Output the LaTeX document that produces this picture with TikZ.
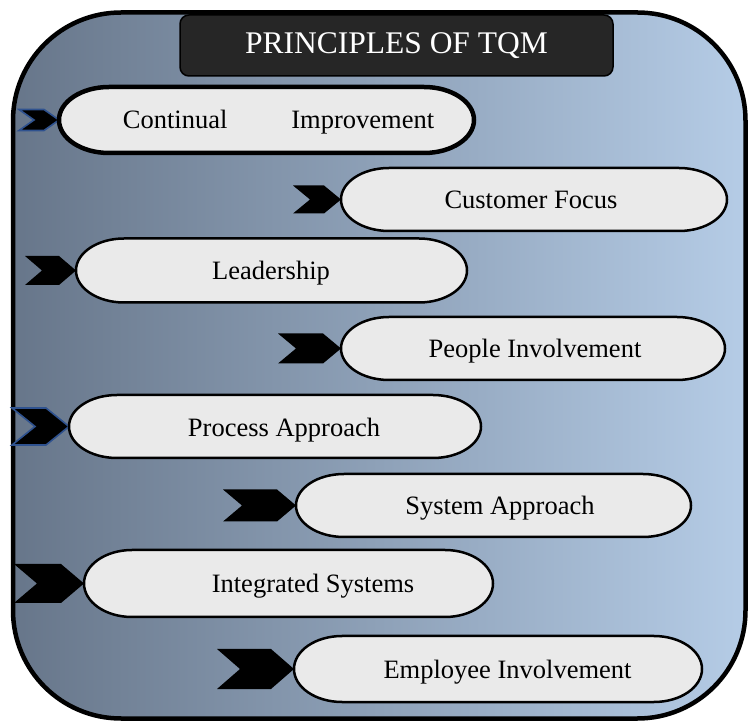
\documentclass[tikz,border=0pt]{standalone}
\usepackage{fontspec}
\setmainfont{Liberation Serif}
\usetikzlibrary{calc}
\definecolor{bgL}{RGB}{103,118,138}
\definecolor{bgR}{RGB}{181,204,230}
\definecolor{titlefill}{RGB}{38,38,38}
\definecolor{pillfill}{RGB}{234,234,234}
\definecolor{chevblue}{RGB}{47,82,143}
\tikzset{
  pillbox/.style={rectangle, inner sep=0pt, outer sep=0pt},
  pillline/.style={draw=black, line width=2.5pt, fill=pillfill},
  lbl/.style={font=\fontsize{26.5}{30}\selectfont, inner sep=0pt, anchor=base},
  chev/.style={fill=black},
  chevb/.style={fill=black, draw=chevblue, line width=1.6pt, line join=miter},
}
\newcommand\drawpill[4]{%
  \path[pillline,#4] ($(#1.north west)+(#2,0)$) -- ($(#1.north east)+(-#2,0)$)
    arc[start angle=90,end angle=-90,x radius=#2,y radius=#3]
    -- ($(#1.south west)+(#2,0)$)
    arc[start angle=270,end angle=90,x radius=#2,y radius=#3] -- cycle;}
\newcommand\drawchev[5]{%
  \path[#5] (#1.west) -- ++(-#4,#3/2) -- ++(-#2+#4,0) -- ++(#4,-#3/2)
    -- ++(-#4,-#3/2) -- ++(#2-#4,0) -- cycle;}
\begin{document}
\begin{tikzpicture}[x=1pt,y=1pt]
\useasboundingbox (0,0) rectangle (753,721);
% partially visible caption above the frame
\node[anchor=base east, font=\fontsize{20}{24}\selectfont, inner sep=0pt] (cap) at (152,725) {company};
% outer frame
\path[left color=bgL, right color=bgR, draw=black, line width=4.5pt, rounded corners=108pt]
  (13,2.5) rectangle (745.5,708.5);
% title
\node[draw=black, line width=1.5pt, fill=titlefill, rounded corners=9pt,
      minimum width=433pt, minimum height=61pt, inner sep=0pt, text=white,
      font=\fontsize{31.5}{36}\selectfont] (title) at (396.5,675.5) {PRINCIPLES OF TQM};
% pill placeholders
\node[pillbox, minimum width=415pt, minimum height=66pt] (p1) at (266.5,601) {};
\node[pillbox, minimum width=386pt, minimum height=63pt] (p2) at (534,521.5) {};
\node[pillbox, minimum width=391pt, minimum height=64pt] (p3) at (271.5,450.5) {};
\node[pillbox, minimum width=384pt, minimum height=63pt] (p4) at (533,372.5) {};
\node[pillbox, minimum width=412pt, minimum height=63pt] (p5) at (275,294.5) {};
\node[pillbox, minimum width=395pt, minimum height=63pt] (p6) at (493.5,215.5) {};
\node[pillbox, minimum width=409pt, minimum height=67pt] (p7) at (288.5,137.5) {};
\node[pillbox, minimum width=408pt, minimum height=66pt] (p8) at (498,52) {};
% chevrons
\drawchev{p1}{40}{21}{15}{chevb}
\drawchev{p2}{48}{28}{17}{chev}
\drawchev{p3}{51}{29}{17}{chev}
\drawchev{p4}{63}{30}{18}{chev}
\drawchev{p5}{57}{37}{23}{chevb}
\drawchev{p6}{73}{32}{19}{chev}
\drawchev{p7}{70}{39}{23}{chev}
\drawchev{p8}{77}{40}{23}{chev}
% pills
\drawpill{p1}{50}{33}{line width=4.5pt}
\drawpill{p2}{48}{31.5}{}
\drawpill{p3}{48}{32}{}
\drawpill{p4}{48}{31.5}{}
\drawpill{p5}{48}{31.5}{}
\drawpill{p6}{48}{31.5}{}
\drawpill{p7}{48}{33.5}{}
\drawpill{p8}{48}{33}{}
% labels
\node[lbl] (t1) at (278.5,592) {Continual\hspace{64pt}Improvement};
\node[lbl] (t2) at (531,512.5) {Customer Focus};
\node[lbl] (t3) at (271,441.5) {Leadership};
\node[lbl] (t4) at (535,363.5) {People Involvement};
\node[lbl] (t5) at (284,284.5) {Process Approach};
\node[lbl] (t6) at (500,206.5) {System Approach};
\node[lbl] (t7) at (313,128.5) {Integrated Systems};
\node[lbl] (t8) at (507.5,43) {Employee Involvement};
\end{tikzpicture}
\end{document}
